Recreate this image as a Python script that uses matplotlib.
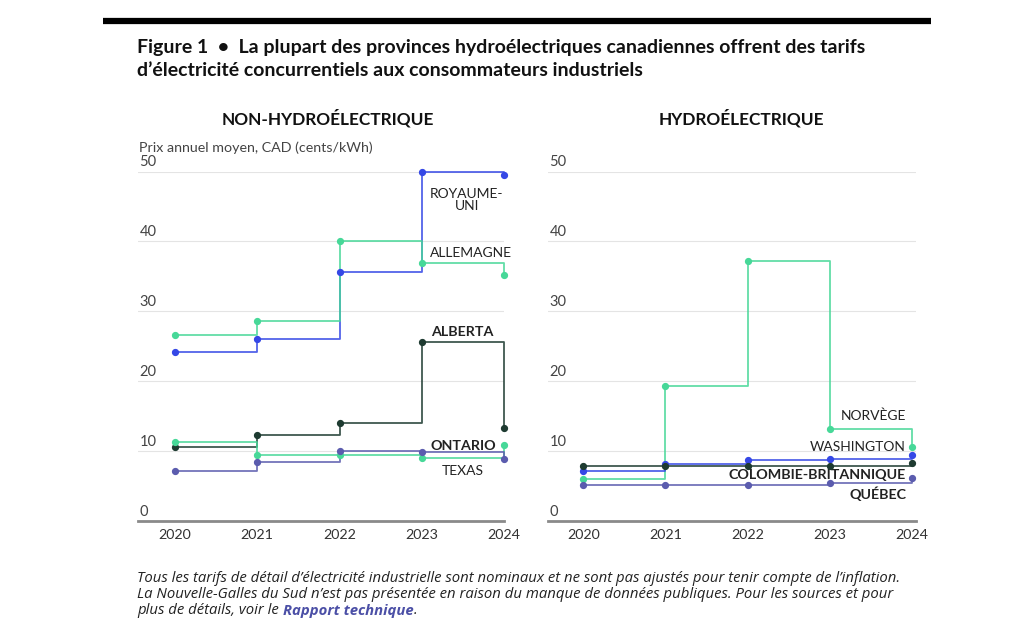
import matplotlib.pyplot as plt
import matplotlib.transforms as mtransforms

# Données (cents/kWh, CAD)
annees = [2020, 2021, 2022, 2023, 2024]

royaume_uni = [24.2, 26.0, 35.6, 49.9, 49.5]
allemagne = [26.6, 28.6, 40.0, 36.9, 35.2]
alberta = [10.6, 12.3, 14.0, 25.6, 13.3]
ontario = [11.3, 9.5, 9.5, 9.0, 10.9]
texas = [7.1, 8.5, 10.0, 9.9, 8.9]

norvege = [6.0, 19.3, 37.2, 13.1, 10.6]
washington = [7.1, 8.1, 8.7, 8.8, 9.4]
colombie_b = [7.9, 7.9, 7.9, 7.9, 8.3]
quebec = [5.2, 5.2, 5.2, 5.5, 6.1]

yticks = [0, 10, 20, 30, 40, 50]

BLEU = '#3548e6'
VERT = '#47d898'
FONCE = '#1e3b31'
VIOLET = '#5b5cae'
TEXTE = '#222222'

plt.rcParams['font.family'] = ['Lato', 'DejaVu Sans']

fig = plt.figure(figsize=(10.24, 6.39), dpi=100)
W, H = 1024, 639


def px_axes(x0, x1, ytop, ybot):
    return fig.add_axes([x0 / W, 1 - ybot / H, (x1 - x0) / W, (ybot - ytop) / H])


ax1 = px_axes(138, 504, 171.5, 521)
ax2 = px_axes(548, 916, 171.5, 521)

series_g = [(royaume_uni, BLEU), (allemagne, VERT), (alberta, FONCE),
            (ontario, VERT), (texas, VIOLET)]
series_d = [(norvege, VERT), (washington, BLEU), (colombie_b, FONCE),
            (quebec, VIOLET)]

for ax, series, xlim in [(ax1, series_g, (2019.55, 2024.0)),
                         (ax2, series_d, (2019.57, 2024.05))]:
    ax.set_xlim(*xlim)
    ax.set_ylim(0, 50)
    for vals, col in series:
        ax.plot(annees, vals, drawstyle='steps-post', color=col, lw=1.3,
                alpha=0.85, clip_on=False, zorder=3)
        ax.plot(annees, vals, 'o', color=col, ms=4.2, clip_on=False, zorder=4)
    for s in ['top', 'right', 'left']:
        ax.spines[s].set_visible(False)
    ax.spines['bottom'].set_color('#8a8a8a')
    ax.spines['bottom'].set_linewidth(2)
    ax.set_yticks(yticks)
    ax.set_yticklabels([])
    ax.tick_params(axis='y', length=0)
    ax.grid(axis='y', color='#e4e4e4', lw=0.8)
    ax.set_axisbelow(True)
    ax.set_xticks(annees)
    ax.set_xticklabels([str(a) for a in annees], fontsize=10.3, color='#333333')
    ax.tick_params(axis='x', length=0, pad=6)
    trans = mtransforms.blended_transform_factory(ax.transAxes, ax.transData)
    off = mtransforms.offset_copy(trans, fig=fig, x=1, y=1.5, units='points')
    for t in yticks:
        ax.text(0, t, str(t), transform=off, ha='left', va='bottom',
                fontsize=10.5, color='#444444')

# Étiquettes des séries
lab = dict(fontsize=10, color=TEXTE)
gras = dict(fontsize=10.3, color=TEXTE, fontweight='bold')
ax1.text(2023.55, 47.6, 'ROYAUME-\nUNI', ha='center', va='top',
         linespacing=1.0, **lab)
ax1.text(2023.6, 38.4, 'ALLEMAGNE', ha='center', va='center', **lab)
ax1.text(2023.49, 27.0, 'ALBERTA', ha='center', va='center', **gras)
ax1.text(2023.5, 10.8, 'ONTARIO', ha='center', va='center', **gras)
ax1.text(2023.5, 7.2, 'TEXAS', ha='center', va='center', **lab)

ax2.text(2023.93, 15.0, 'NORVÈGE', ha='right', va='center', **lab)
ax2.text(2023.93, 10.6, 'WASHINGTON', ha='right', va='center', **lab)
ax2.text(2023.93, 6.6, 'COLOMBIE-BRITANNIQUE', ha='right', va='center', **gras)
ax2.text(2023.93, 3.9, 'QUÉBEC', ha='right', va='center', **gras)

# Barre noire et titre
fig.add_artist(plt.Line2D([103 / W, 931 / W], [1 - 21 / H, 1 - 21 / H],
                          color='black', lw=4.5, solid_capstyle='butt'))
fig.text(137 / W, 1 - 47 / H,
         "Figure 1  •  La plupart des provinces hydroélectriques canadiennes offrent des tarifs",
         fontsize=14, fontweight='bold', color='#111111', va='center')
fig.text(137 / W, 1 - 71 / H,
         "d’électricité concurrentiels aux consommateurs industriels",
         fontsize=14, fontweight='bold', color='#111111', va='center')

fig.text(328 / W, 1 - 118 / H, 'NON-HYDROÉLECTRIQUE', ha='center',
         va='center', fontsize=12.4, fontweight='bold', color='#111111')
fig.text(741 / W, 1 - 118 / H, 'HYDROÉLECTRIQUE', ha='center',
         va='center', fontsize=12.4, fontweight='bold', color='#111111')
fig.text(139 / W, 1 - 148 / H, 'Prix annuel moyen, CAD (cents/kWh)',
         ha='left', va='center', fontsize=10.3, color='#444444')

# Note de bas de figure
note = dict(fontsize=10.75, style='italic', color='#222222', va='center',
            family=['Open Sans', 'DejaVu Sans'])
fig.text(137 / W, 1 - 578 / H,
         "Tous les tarifs de détail d’électricité industrielle sont nominaux et ne sont pas ajustés pour tenir compte de l’inflation.",
         **note)
fig.text(137 / W, 1 - 595 / H,
         "La Nouvelle-Galles du Sud n’est pas présentée en raison du manque de données publiques. Pour les sources et pour",
         **note)
t1 = fig.text(137 / W, 1 - 611 / H, "plus de détails, voir le ", **note)
fig.canvas.draw()
bb = t1.get_window_extent()
t2 = fig.text(bb.x1 / W, 1 - 611 / H, "Rapport technique", fontsize=10.75,
              style='italic', fontweight='bold', color='#4b4fa6', va='center',
              family=['Open Sans', 'DejaVu Sans'])
fig.canvas.draw()
bb2 = t2.get_window_extent()
fig.text(bb2.x1 / W, 1 - 611 / H, ".", **note)

fig.savefig('out.png', dpi=100)
